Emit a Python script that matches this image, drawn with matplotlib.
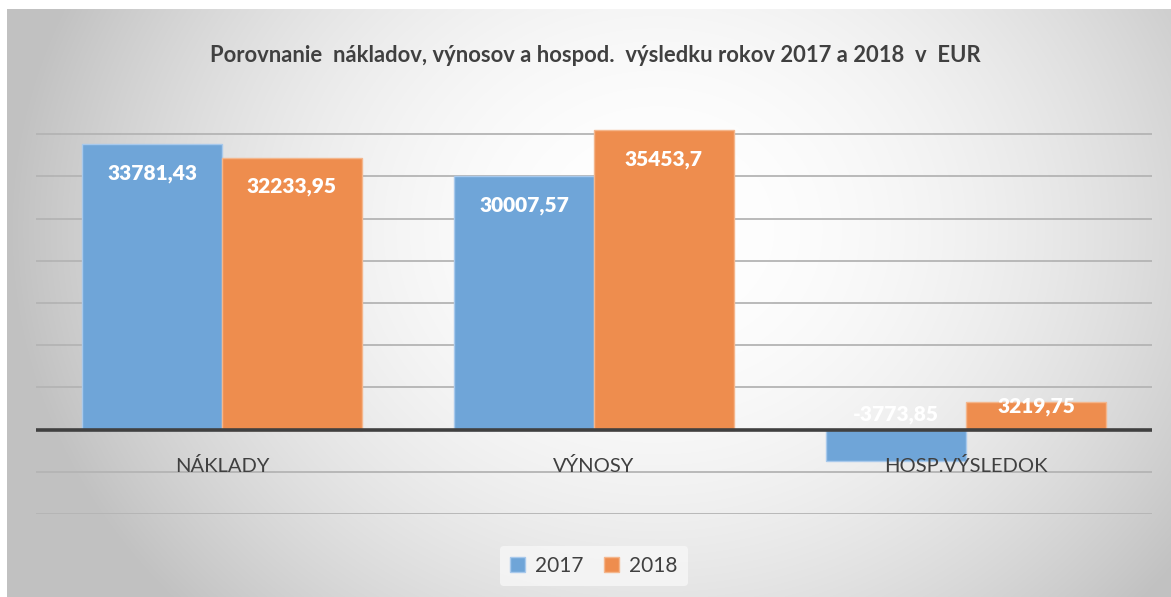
import numpy as np
import matplotlib.pyplot as plt

kategorie = ['NÁKLADY', 'VÝNOSY', 'HOSP.VÝSLEDOK']
roky = ['2017', '2018']
hodnoty_2017 = [33781.43, 30007.57, -3773.85]
hodnoty_2018 = [32233.95, 35453.7, 3219.75]
popisy_2017 = ['33781,43', '30007,57', '-3773,85']
popisy_2018 = ['32233,95', '35453,7', '3219,75']

modra = '#6FA5D8'
oranzova = '#EE8D4E'
text_farba = '#404040'

W, H = 1171, 597
fig = plt.figure(figsize=(W / 100, H / 100), dpi=100)
fig.patch.set_facecolor('white')

# pozadie - radialny prechod
bg = fig.add_axes([7 / W, 0, 1 - 7 / W, 1 - 9 / H])
yy, xx = np.mgrid[0:H - 9, 0:W - 7]
r = np.sqrt(((xx - 650) / 650.0) ** 2 + ((yy - 220) / 560.0) ** 2)
g = 255 - 62 * np.clip(r, 0, 1) ** 2.0
bg.imshow(np.dstack([g, g, g]).astype(np.uint8), aspect='auto')
bg.axis('off')

# graf
x0, x1 = 36, 1152
ymin, ymax = -10000, 36000
ybot = 514
ytop = ybot - (ymax - ymin) * 42.2 / 5000
ax = fig.add_axes([x0 / W, 1 - ybot / H, (x1 - x0) / W, (ybot - ytop) / H])
ax.patch.set_alpha(0)
ax.set_xlim(-0.5, 2.5)
ax.set_ylim(ymin, ymax)

for v in range(-10000, 35001, 5000):
    if v != 0:
        ax.axhline(v, color='#b4b4b4', lw=1.3, zorder=1)

x = np.arange(len(kategorie))
w = 0.376
b1 = ax.bar(x - w / 2, hodnoty_2017, w, color=modra, edgecolor='#a8c9ec', lw=1, zorder=2, label=roky[0])
b2 = ax.bar(x + w / 2, hodnoty_2018, w, color=oranzova, edgecolor='#f4b68c', lw=1, zorder=2, label=roky[1])
ax.axhline(0, color=text_farba, lw=2.6, zorder=4)

for xs, vals, pops in [(x - w / 2, hodnoty_2017, popisy_2017), (x + w / 2, hodnoty_2018, popisy_2018)]:
    for xi, v, p in zip(xs, vals, pops):
        if v > 10000:
            y, off = v, -21
        elif v > 0:
            y, off = v, -3
        else:
            y, off = 0, 11
        ax.annotate(p, (xi, y), xytext=(0, off), textcoords='offset points',
                    ha='center', va='center', color='white', fontsize=15,
                    fontweight='heavy', family='Lato', zorder=5)

for xi, k in zip(x, kategorie):
    ax.annotate(k, (xi, 0), xytext=(0, -26), textcoords='offset points',
                ha='center', va='center', color=text_farba, fontsize=14.5,
                family='Lato', zorder=6)

for s in ax.spines.values():
    s.set_visible(False)
ax.set_xticks([])
ax.set_yticks([])

fig.text(0.5 + 10 / W, 1 - 55 / H,
         'Porovnanie  nákladov, výnosov a hospod.  výsledku rokov 2017 a 2018  v  EUR',
         ha='center', va='center', fontsize=15.8, fontweight='bold',
         color=text_farba, family='Lato')

leg = fig.legend(handles=[b1, b2], loc='center', bbox_to_anchor=(594 / W, 1 - 566 / H),
                 ncol=2, frameon=True, handlelength=0.7, handleheight=0.7,
                 columnspacing=1.0, handletextpad=0.5, borderpad=0.5,
                 prop={'family': 'Lato', 'size': 15})
leg.get_frame().set_facecolor('#f7f7f7')
leg.get_frame().set_edgecolor('none')
leg.get_frame().set_alpha(0.8)
for t in leg.get_texts():
    t.set_color(text_farba)

fig.savefig('out.png', dpi=100)
